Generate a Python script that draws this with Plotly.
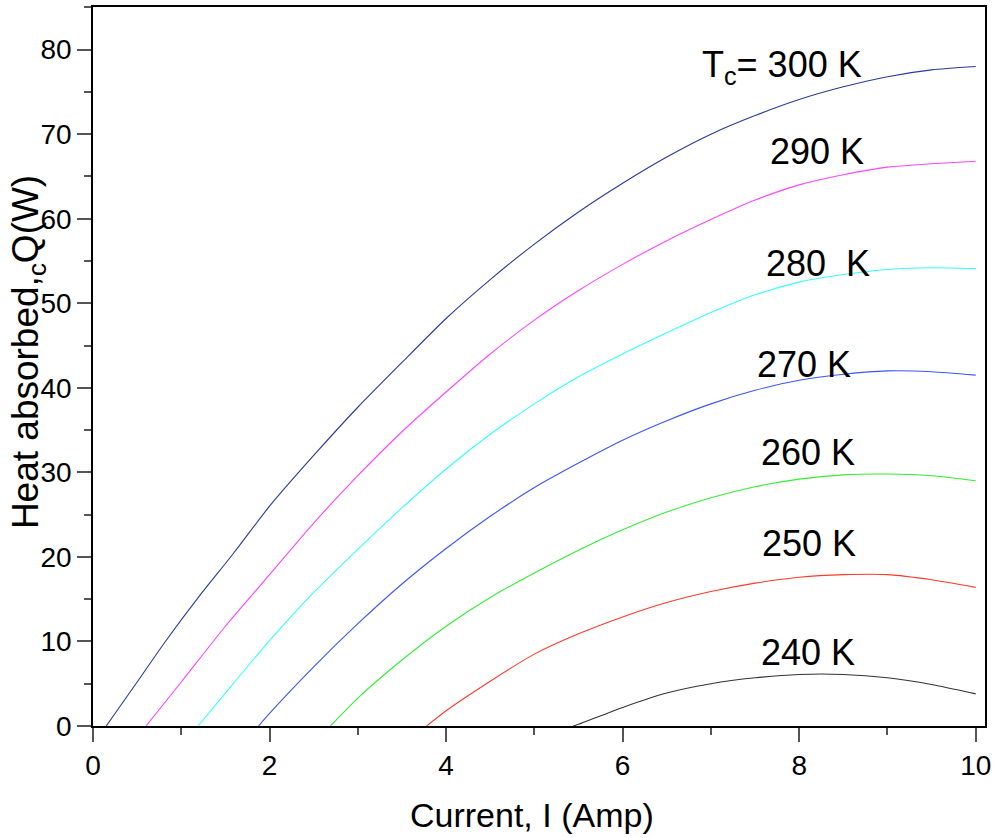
import plotly.graph_objects as go

# ---------------- data ----------------
I_300 = [0.15, 0.5, 0.82, 1.2, 1.59, 2.0, 2.5, 3.0, 3.5, 4.0, 4.5, 5.0, 5.5, 6.0, 6.5, 7.0, 7.5, 8.0, 8.5, 9.0, 9.5, 10.0]
Q_300 = [0.0, 5.2, 10.0, 15.3, 20.4, 26.0, 32.0, 37.7, 43.0, 48.2, 52.8, 57.0, 60.8, 64.2, 67.3, 70.0, 72.2, 74.1, 75.6, 76.8, 77.6, 78.0]

I_290 = [0.6, 1.0, 1.5, 2.0, 2.5, 3.0, 3.5, 4.0, 4.5, 5.0, 5.5, 6.0, 6.5, 7.0, 7.5, 8.0, 8.5, 9.0, 9.5, 10.0]
Q_290 = [0.0, 5.2, 11.8, 17.9, 24.0, 29.6, 34.8, 39.5, 44.0, 48.0, 51.5, 54.6, 57.4, 59.9, 62.2, 64.0, 65.2, 66.1, 66.5, 66.8]

I_280 = [1.19, 1.5, 2.0, 2.5, 3.0, 3.5, 4.0, 4.5, 5.0, 5.5, 6.0, 6.5, 7.0, 7.5, 8.0, 8.5, 9.0, 9.5, 10.0]
Q_280 = [0.0, 3.9, 10.1, 15.8, 20.9, 25.8, 30.4, 34.5, 38.1, 41.3, 44.0, 46.5, 48.9, 51.0, 52.5, 53.4, 54.0, 54.2, 54.1]

I_270 = [1.875, 2.0, 2.5, 3.0, 3.5, 4.0, 4.5, 5.0, 5.5, 6.0, 6.5, 7.0, 7.5, 8.0, 8.5, 9.0, 9.5, 10.0]
Q_270 = [0.0, 1.5, 7.0, 12.1, 16.8, 21.0, 24.8, 28.2, 31.1, 33.8, 36.1, 38.1, 39.7, 40.9, 41.6, 42.0, 41.9, 41.5]

I_260 = [2.69, 3.0, 3.5, 4.0, 4.5, 5.0, 5.5, 6.0, 6.5, 7.0, 7.5, 8.0, 8.5, 9.0, 9.5, 10.0]
Q_260 = [0.0, 3.3, 7.8, 11.8, 15.2, 18.1, 20.8, 23.2, 25.3, 27.0, 28.3, 29.2, 29.7, 29.8, 29.6, 29.0]

I_250 = [3.78, 4.0, 4.5, 5.0, 5.5, 6.0, 6.5, 7.0, 7.5, 8.0, 8.5, 9.0, 9.5, 10.0]
Q_250 = [0.0, 1.8, 5.3, 8.5, 10.9, 12.9, 14.6, 15.9, 16.9, 17.6, 17.9, 17.9, 17.3, 16.4]

I_240 = [5.44, 5.5, 6.0, 6.5, 7.0, 7.5, 8.0, 8.5, 9.0, 9.5, 10.0]
Q_240 = [0.0, 0.2, 2.2, 3.9, 5.0, 5.7, 6.1, 6.1, 5.7, 4.9, 3.8]

series_labels = ["T<sub>c</sub>= 300 K", "290 K", "280\u00a0\u00a0K", "270 K", "260 K", "250 K", "240 K"]

x_ticks = [0, 2, 4, 6, 8, 10]
y_ticks = [0, 10, 20, 30, 40, 50, 60, 70, 80]

x_title = "Current, I (Amp)"
y_title = "Heat absorbed,<sub>c</sub>Q(W)"

# ---------------- styling ----------------
series = [
    (I_300, Q_300, "#2a3a9c"),
    (I_290, Q_290, "#ff44ff"),
    (I_280, Q_280, "#33ffff"),
    (I_270, Q_270, "#3a55ff"),
    (I_260, Q_260, "#33ee33"),
    (I_250, Q_250, "#ff3a2a"),
    (I_240, Q_240, "#333333"),
]

# label anchor positions in data coords (x, y, xanchor)
label_pos = [
    (6.88, 78.0, "left"),
    (8.20, 67.9, "center"),
    (8.21, 54.7, "center"),
    (8.05, 42.7, "center"),
    (8.10, 32.3, "center"),
    (8.11, 21.6, "center"),
    (8.10, 8.7, "center"),
]

FONT = "Liberation Sans, Arial, sans-serif"

fig = go.Figure()
for xs, ys, col in series:
    fig.add_trace(go.Scatter(x=xs, y=ys, mode="lines",
                             line=dict(color=col, width=1.1, shape="spline", smoothing=0.6),
                             showlegend=False, hoverinfo="skip"))

for text, (lx, ly, anc) in zip(series_labels, label_pos):
    fig.add_annotation(x=lx, y=ly, xref="x", yref="y", text=text,
                       showarrow=False, xanchor=anc, yanchor="middle",
                       font=dict(family=FONT, size=36, color="black"))

fig.add_annotation(x=0.4916, y=-0.1234, xref="paper", yref="paper",
                   text=x_title, showarrow=False, xanchor="center", yanchor="middle",
                   font=dict(family=FONT, size=34, color="black"))
fig.add_annotation(x=0, y=0.52, xref="paper", yref="paper", xshift=-65,
                   text=y_title, showarrow=False, xanchor="center", yanchor="middle",
                   textangle=-90,
                   font=dict(family=FONT, size=37, color="black"))

axis_common = dict(
    showgrid=False, zeroline=False,
    showline=True, linecolor="black", linewidth=1.5, mirror=True,
    ticks="outside", ticklen=14, tickwidth=1.5, tickcolor="#555555",
    tickfont=dict(family=FONT, size=28, color="black"),
)

fig.update_xaxes(range=[0, 10.105], tickvals=x_ticks, ticktext=[str(v) for v in x_ticks],
                 minor=dict(dtick=1, ticklen=7, tickwidth=1.5, tickcolor="#555555", ticks="outside"),
                 **axis_common)
fig.update_yaxes(range=[0, 85.04], tickvals=y_ticks, ticktext=[str(v) for v in y_ticks],
                 minor=dict(dtick=5, ticklen=7, tickwidth=1.5, tickcolor="#555555", ticks="outside"),
                 **axis_common)

fig.update_layout(
    width=997, height=838,
    margin=dict(l=93, r=12, t=5, b=112),
    plot_bgcolor="white", paper_bgcolor="white",
    font=dict(family=FONT, color="black"),
)

fig.write_html("out.html", config={"displayModeBar": False},
               post_script="document.body.style.margin='0';document.body.style.overflow='hidden';")
